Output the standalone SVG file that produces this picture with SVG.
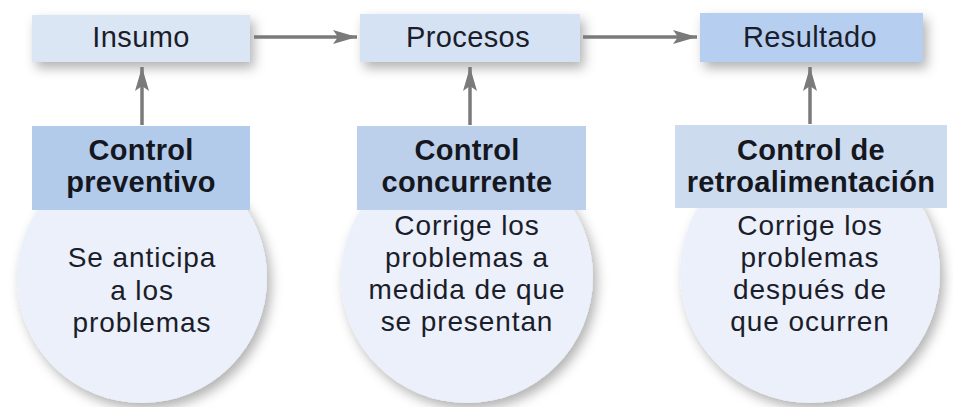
<svg xmlns="http://www.w3.org/2000/svg" width="953" height="407" viewBox="0 0 953 407">
<defs>
<filter id="sh" x="-20%" y="-20%" width="150%" height="170%">
<feDropShadow dx="4" dy="6" stdDeviation="6" flood-color="#000" flood-opacity="0.3"/>
</filter>
<marker id="ah" markerWidth="26" markerHeight="16" refX="24" refY="8" orient="auto" markerUnits="userSpaceOnUse">
<path d="M0,1 L24,8 L0,15 L5,8 Z" fill="#7a7a7a"/>
</marker>
<style>
.lbl{font-family:"Liberation Sans",Arial,sans-serif;font-size:29px;letter-spacing:0.4px;fill:#1b1d2a;text-anchor:middle}
.hd{font-family:"Liberation Sans",Arial,sans-serif;font-size:29px;letter-spacing:0.3px;font-weight:bold;fill:#15171f;text-anchor:middle}
.tx{font-family:"Liberation Sans",Arial,sans-serif;font-size:28px;letter-spacing:0.9px;fill:#1b1d2a;text-anchor:middle}
.conn{stroke:#7a7a7a;stroke-width:3.5;fill:none}
.circ{fill:#ebf0fa}
</style>
</defs>
<rect width="953" height="407" fill="#ffffff"/>

<g id="insumo">
<rect x="32" y="15" width="218" height="47" fill="#dbe6f5" filter="url(#sh)"/>
<text class="lbl" x="141" y="47">Insumo</text>
</g>
<g id="procesos">
<rect x="360" y="14" width="220" height="48" fill="#d5e2f4" filter="url(#sh)"/>
<text class="lbl" x="468" y="47">Procesos</text>
</g>
<g id="resultado">
<rect x="700" y="13" width="223" height="49" fill="#b6cff0" filter="url(#sh)"/>
<text class="lbl" x="810" y="47">Resultado</text>
</g>

<g id="preventivo">
<circle class="circ" cx="142" cy="278" r="125" filter="url(#sh)"/>
<rect x="32" y="126" width="218" height="84" fill="#b3cbeb"/>
<text class="hd" x="141" y="160">Control</text>
<text class="hd" x="141" y="192">preventivo</text>
<text class="tx" x="142" y="267">Se anticipa</text>
<text class="tx" x="142" y="300">a los</text>
<text class="tx" x="142" y="332">problemas</text>
</g>
<g id="concurrente">
<circle class="circ" cx="467" cy="277" r="126" filter="url(#sh)"/>
<rect x="357" y="126" width="229" height="84" fill="#bdd0eb"/>
<text class="hd" x="467" y="160">Control</text>
<text class="hd" x="467" y="192">concurrente</text>
<text class="tx" x="467" y="235">Corrige los</text>
<text class="tx" x="467" y="267">problemas a</text>
<text class="tx" x="467" y="299">medida de que</text>
<text class="tx" x="467" y="331">se presentan</text>
</g>
<g id="retroalimentacion">
<circle class="circ" cx="810" cy="273" r="130" filter="url(#sh)"/>
<rect x="675" y="125" width="272" height="83" fill="#cddbef"/>
<text class="hd" x="811" y="160">Control de</text>
<text class="hd" x="811" y="192">retroalimentación</text>
<text class="tx" x="810" y="235">Corrige los</text>
<text class="tx" x="810" y="267">problemas</text>
<text class="tx" x="810" y="299">después de</text>
<text class="tx" x="810" y="331">que ocurren</text>
</g>

<g id="connectors">
<line class="conn" x1="254" y1="37" x2="357" y2="37" marker-end="url(#ah)"/>
<line class="conn" x1="583" y1="37" x2="697" y2="37" marker-end="url(#ah)"/>
<line class="conn" x1="142" y1="125" x2="142" y2="67" marker-end="url(#ah)"/>
<line class="conn" x1="470" y1="125" x2="470" y2="67" marker-end="url(#ah)"/>
<line class="conn" x1="810" y1="124" x2="810" y2="67" marker-end="url(#ah)"/>
</g>
</svg>
